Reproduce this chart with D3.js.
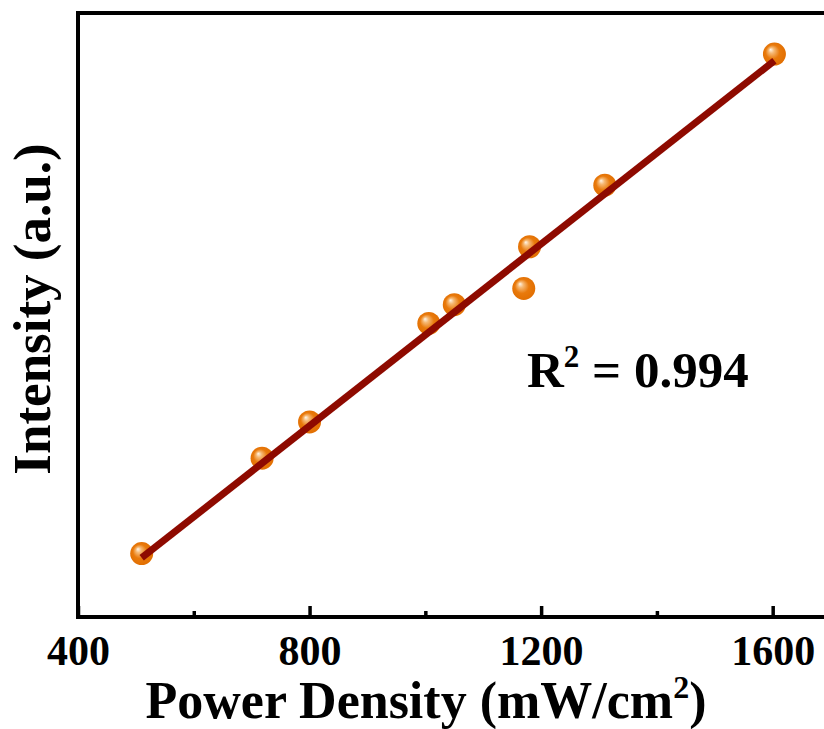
<!DOCTYPE html>
<html>
<head>
<meta charset="utf-8">
<script src="https://cdn.jsdelivr.net/npm/d3@7"></script>
<style>
  html, body { margin: 0; padding: 0; background: #fff; }
  svg { display: block; }
  text { font-family: "Liberation Serif", "Times New Roman", serif; font-weight: bold; fill: #000; }
</style>
</head>
<body>
<svg id="chart" width="824" height="729"></svg>
<script>
// ---- data ----
const powerDensity = [510, 718, 800, 1006, 1050, 1170, 1180, 1310, 1603];
const intensity    = [10.5, 26.3, 32.3, 48.6, 51.7, 54.4, 61.3, 71.5, 93.2];
const fitX = [510, 1603];
const fitY = [9.8, 92.1];
const majorTicks = [400, 800, 1200, 1600];
const minorTicks = [600, 1000, 1400];
const xTitle = "Power Density (mW/cm";
const yTitle = "Intensity (a.u.)";
const r2Label = "0.994";

// ---- layout ----
const svg = d3.select("#chart");
const mLeft = 78, mTop = 13, mBottom = 617;
const x = d3.scaleLinear().domain([400, 1700]).range([mLeft, mLeft + 1300 * 0.5789]);
const y = d3.scaleLinear().domain([0, 100]).range([mBottom, mTop]);

// gradient for spheres
const defs = svg.append("defs");
const g = defs.append("radialGradient").attr("id", "ball")
  .attr("cx", "50%").attr("cy", "50%").attr("r", "55%")
  .attr("fx", "33%").attr("fy", "30%");
g.append("stop").attr("offset", "0%").attr("stop-color", "#fff6ea");
g.append("stop").attr("offset", "22%").attr("stop-color", "#f6b873");
g.append("stop").attr("offset", "55%").attr("stop-color", "#e97a0c");
g.append("stop").attr("offset", "100%").attr("stop-color", "#e06d00");

// markers
svg.append("g").selectAll("circle")
  .data(powerDensity.map((d, i) => [d, intensity[i]]))
  .join("circle")
  .attr("cx", d => x(d[0]))
  .attr("cy", d => y(d[1]))
  .attr("r", 11.5)
  .attr("fill", "url(#ball)");

// fit line
svg.append("path")
  .datum(fitX.map((d, i) => [d, fitY[i]]))
  .attr("d", d3.line().x(d => x(d[0])).y(d => y(d[1])))
  .attr("stroke", "#8e0a00")
  .attr("stroke-width", 7)
  .attr("fill", "none");

// axes
const xAxis = svg.append("g").attr("transform", `translate(0,${mBottom})`)
  .call(d3.axisBottom(x).tickValues(majorTicks).tickFormat(d3.format("d"))
    .tickSize(-11).tickPadding(18).tickSizeOuter(0));
const xMinor = svg.append("g").attr("transform", `translate(0,${mBottom})`)
  .call(d3.axisBottom(x).tickValues(minorTicks).tickSize(-6).tickFormat("").tickSizeOuter(0));
[xAxis, xMinor].forEach(a => {
  a.select(".domain").remove();
  a.selectAll(".tick line").attr("stroke", "#000").attr("stroke-width", 3.5);
});
xAxis.selectAll(".tick text")
  .style("font-family", "'Liberation Serif', 'Times New Roman', serif")
  .style("font-weight", "bold")
  .style("font-size", "42px")
  .attr("fill", "#000");

// frame lines (left, bottom, top)
svg.append("path")
  .attr("d", `M${x.range()[1] + 5},${mTop} H${mLeft} V${mBottom} H${x.range()[1] + 5}`)
  .attr("fill", "none").attr("stroke", "#000").attr("stroke-width", 4);

// y title
svg.append("text")
  .attr("transform", `translate(50,309) rotate(-90)`)
  .attr("text-anchor", "middle")
  .style("font-size", "53px")
  .text(yTitle);

// x title
const xt = svg.append("text")
  .attr("x", 426).attr("y", 718)
  .attr("text-anchor", "middle")
  .style("font-size", "52px");
xt.append("tspan").text(xTitle);
xt.append("tspan").attr("dy", -20).style("font-size", "32px").text("2");
xt.append("tspan").attr("dy", 20).text(")");

// R^2 annotation
const rt = svg.append("text").attr("x", 527).attr("y", 387).style("font-size", "51px");
rt.append("tspan").text("R");
rt.append("tspan").attr("dy", -20).style("font-size", "31px").text("2");
rt.append("tspan").attr("dy", 20).text(" = " + r2Label);
</script>
</body>
</html>
